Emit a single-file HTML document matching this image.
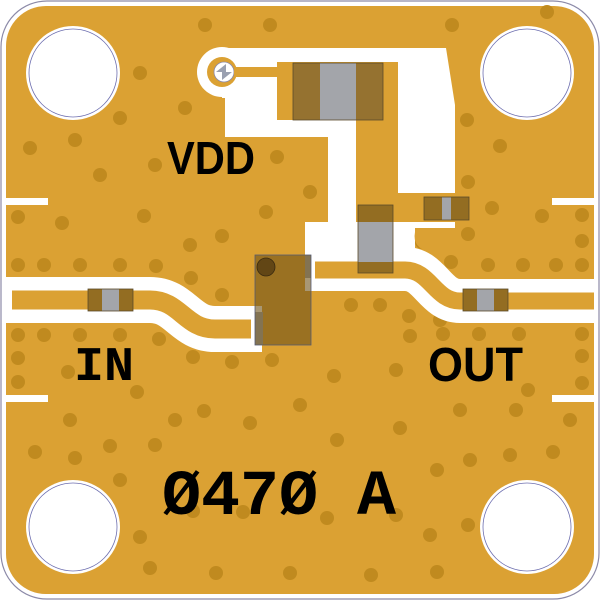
<!DOCTYPE html>
<html><head><meta charset="utf-8"><style>
html,body{margin:0;padding:0;background:#fff;width:600px;height:600px;overflow:hidden}
</style></head><body>
<svg width="600" height="600" viewBox="0 0 600 600" xmlns="http://www.w3.org/2000/svg">
<rect x="1" y="1" width="598" height="598" rx="46" fill="#fff" stroke="#8c8aa8" stroke-width="1.2"/>
<rect x="6" y="6" width="588" height="588" rx="40" fill="#dba133"/>
<!-- edge slots -->
<rect x="5" y="198" width="43" height="7" fill="#fff"/>
<rect x="5" y="395" width="43" height="7" fill="#fff"/>
<rect x="552" y="198" width="43" height="7" fill="#fff"/>
<rect x="552" y="395" width="43" height="7" fill="#fff"/>
<!-- vias -->
<g fill="#c08a1f">
<circle cx="205" cy="25" r="7"/><circle cx="270" cy="25" r="7"/><circle cx="452" cy="25" r="7"/><circle cx="547" cy="12" r="7"/>
<circle cx="140" cy="73" r="7"/><circle cx="185" cy="108" r="7"/><circle cx="120" cy="118" r="7"/><circle cx="75" cy="140" r="7"/><circle cx="30" cy="148" r="7"/>
<circle cx="100" cy="175" r="7"/><circle cx="155" cy="165" r="7"/><circle cx="62" cy="223" r="7"/><circle cx="18" cy="217" r="7"/><circle cx="144" cy="216" r="7"/>
<circle cx="222" cy="236" r="7"/><circle cx="266" cy="212" r="7"/><circle cx="277" cy="157" r="7"/><circle cx="310" cy="192" r="7"/><circle cx="314" cy="236" r="7"/><circle cx="190" cy="245" r="7"/>
<circle cx="18" cy="265" r="7"/><circle cx="44" cy="265" r="7"/><circle cx="80" cy="265" r="7"/><circle cx="120" cy="265" r="7"/><circle cx="156" cy="266" r="7"/><circle cx="191" cy="278" r="7"/><circle cx="222" cy="295" r="7"/>
<circle cx="467" cy="120" r="7"/><circle cx="500" cy="146" r="7"/><circle cx="468" cy="182" r="7"/><circle cx="492" cy="208" r="7"/><circle cx="542" cy="216" r="7"/><circle cx="582" cy="215" r="7"/>
<circle cx="468" cy="234" r="7"/><circle cx="422" cy="242" r="7"/><circle cx="451" cy="262" r="7"/><circle cx="488" cy="265" r="7"/><circle cx="523" cy="265" r="7"/><circle cx="556" cy="265" r="7"/><circle cx="582" cy="265" r="7"/><circle cx="582" cy="241" r="7"/>
<circle cx="351" cy="305" r="7"/><circle cx="380" cy="305" r="7"/><circle cx="409" cy="316" r="7"/><circle cx="440" cy="320" r="7"/>
<circle cx="18" cy="335" r="7"/><circle cx="44" cy="335" r="7"/><circle cx="80" cy="335" r="7"/><circle cx="120" cy="335" r="7"/><circle cx="159" cy="339" r="7"/><circle cx="193" cy="357" r="7"/><circle cx="232" cy="362" r="7"/><circle cx="272" cy="360" r="7"/>
<circle cx="18" cy="358" r="7"/><circle cx="18" cy="382" r="7"/><circle cx="68" cy="372" r="7"/><circle cx="137" cy="392" r="7"/>
<circle cx="410" cy="336" r="7"/><circle cx="443" cy="334" r="7"/><circle cx="479" cy="334" r="7"/><circle cx="519" cy="334" r="7"/><circle cx="582" cy="334" r="7"/><circle cx="582" cy="356" r="7"/><circle cx="582" cy="383" r="7"/><circle cx="396" cy="370" r="7"/><circle cx="528" cy="390" r="7"/>
<circle cx="334" cy="376" r="7"/><circle cx="300" cy="405" r="7"/><circle cx="204" cy="411" r="7"/><circle cx="155" cy="445" r="7"/><circle cx="175" cy="420" r="7"/><circle cx="250" cy="423" r="7"/><circle cx="337" cy="440" r="7"/><circle cx="400" cy="428" r="7"/><circle cx="437" cy="470" r="7"/>
<circle cx="70" cy="420" r="7"/><circle cx="35" cy="452" r="7"/><circle cx="110" cy="446" r="7"/><circle cx="75" cy="458" r="7"/><circle cx="120" cy="480" r="7"/><circle cx="193" cy="511" r="7"/><circle cx="243" cy="512" r="7"/><circle cx="327" cy="518" r="7"/><circle cx="396" cy="515" r="7"/>
<circle cx="460" cy="410" r="7"/><circle cx="516" cy="410" r="7"/><circle cx="570" cy="420" r="7"/><circle cx="553" cy="452" r="7"/><circle cx="510" cy="455" r="7"/><circle cx="470" cy="460" r="7"/><circle cx="468" cy="525" r="7"/><circle cx="430" cy="535" r="7"/>
<circle cx="216" cy="573" r="7"/><circle cx="290" cy="573" r="7"/><circle cx="371" cy="575" r="7"/><circle cx="140" cy="537" r="7"/><circle cx="150" cy="568" r="7"/><circle cx="437" cy="572" r="7"/>
</g>
<!-- IN trace -->
<path d="M5,300 H150 C180,300 185,329 215,329 H262" fill="none" stroke="#fff" stroke-width="46"/>
<path d="M12,300 H150 C180,300 185,329 215,329 H251" fill="none" stroke="#dba133" stroke-width="19"/>
<!-- OUT trace -->
<path d="M305,269 H405 C430,269 435,301 460,301 H594" fill="none" stroke="#fff" stroke-width="44"/>
<!-- VDD white area -->
<circle cx="222" cy="72" r="25" fill="#fff"/>
<rect x="222" y="48" width="224" height="50" fill="#fff"/>
<path d="M446,48 L455,105 V228 H328 V98 H446Z" fill="#fff"/>
<rect x="225" y="90" width="105" height="47" fill="#fff"/>
<rect x="305" y="222" width="110" height="42" fill="#fff"/>
<path d="M415,232 Q412,248 430,252 L455,252 V228 H415Z" fill="#dba133"/>
<!-- out trace gold -->
<path d="M315,270 H405 C430,270 435,301 460,301 H594" fill="none" stroke="#dba133" stroke-width="17"/>
<!-- VDD gold -->
<circle cx="222" cy="72" r="15" fill="#dba133"/>
<circle cx="224" cy="72" r="10" fill="#fff" stroke="#8c8aa8" stroke-width="0.8"/>
<path d="M216,72 L226,64 V72 Z M222,72 L232,72 L222,80 Z" fill="#9aa0b0"/>
<rect x="234" y="67" width="45" height="10" fill="#dba133"/>
<rect x="277" y="62" width="121" height="58" fill="#dba133"/>
<rect x="356" y="62" width="42" height="160" fill="#dba133"/>
<rect x="356" y="193" width="112" height="29" fill="#dba133"/>
<!-- capacitor top -->
<rect x="293" y="63" width="90" height="57" fill="#a3a5aa"/>
<rect x="293" y="63" width="27" height="57" fill="#936d22" fill-opacity="0.9"/>
<rect x="356" y="63" width="27" height="57" fill="#936d22" fill-opacity="0.9"/>
<rect x="293" y="63" width="90" height="57" fill="none" stroke="#5a4a2a" stroke-width="0.8"/>
<!-- small cap right -->
<rect x="424" y="197" width="45" height="23" fill="#a3a5aa"/>
<rect x="424" y="197" width="18" height="23" fill="#936d22"/>
<rect x="451" y="197" width="18" height="23" fill="#936d22"/>
<rect x="424" y="197" width="45" height="23" fill="none" stroke="#5a4a2a" stroke-width="0.8"/>
<!-- vertical cap -->
<rect x="358" y="205" width="35" height="68" fill="#a3a5aa"/>
<rect x="358" y="205" width="35" height="17" fill="#936d22"/>
<rect x="358" y="262" width="35" height="11" fill="#936d22"/>
<rect x="358" y="205" width="35" height="68" fill="none" stroke="#5a4a2a" stroke-width="0.8"/>
<!-- IN cap -->
<rect x="88" y="289" width="45" height="22" fill="#a3a5aa"/>
<rect x="88" y="289" width="14" height="22" fill="#936d22"/>
<rect x="119" y="289" width="14" height="22" fill="#936d22"/>
<rect x="88" y="289" width="45" height="22" fill="none" stroke="#5a4a2a" stroke-width="0.8"/>
<!-- OUT cap -->
<rect x="463" y="289" width="45" height="22" fill="#a3a5aa"/>
<rect x="463" y="289" width="14" height="22" fill="#936d22"/>
<rect x="494" y="289" width="14" height="22" fill="#936d22"/>
<rect x="463" y="289" width="45" height="22" fill="none" stroke="#5a4a2a" stroke-width="0.8"/>
<!-- IC -->
<rect x="305" y="255" width="6" height="23" fill="#a3a5aa"/>
<rect x="255" y="312" width="8" height="33" fill="#a3a5aa"/>
<rect x="255" y="255" width="56" height="90" fill="#6e5218" fill-opacity="0.6" stroke="#555a70" stroke-width="0.8"/>
<circle cx="266" cy="267" r="9" fill="#4a3510" fill-opacity="0.7" stroke="#3a2a10" stroke-width="0.8"/>
<!-- holes -->
<g fill="#fff" stroke="#6f70b0" stroke-width="0.8">
<circle cx="73" cy="73" r="47" stroke="none"/><circle cx="73" cy="73" r="44"/>
<circle cx="527" cy="73" r="47" stroke="none"/><circle cx="527" cy="73" r="44"/>
<circle cx="73" cy="527" r="47" stroke="none"/><circle cx="73" cy="527" r="44"/>
<circle cx="527" cy="527" r="47" stroke="none"/><circle cx="527" cy="527" r="44"/>
</g>
<!-- labels -->
<text x="167" y="174" font-family="Liberation Sans, sans-serif" font-weight="bold" font-size="46" textLength="88" lengthAdjust="spacingAndGlyphs">VDD</text>
<text x="74" y="380" font-family="Liberation Mono, monospace" font-weight="bold" font-size="48" textLength="60" lengthAdjust="spacingAndGlyphs">IN</text>
<text x="428" y="381" font-family="Liberation Sans, sans-serif" font-weight="bold" font-size="48" textLength="95" lengthAdjust="spacingAndGlyphs">OUT</text>
<text x="162" y="514" font-family="Liberation Mono, monospace" font-weight="bold" font-size="64" textLength="234" lengthAdjust="spacingAndGlyphs">Ø47Ø A</text>
</svg>
</body></html>
